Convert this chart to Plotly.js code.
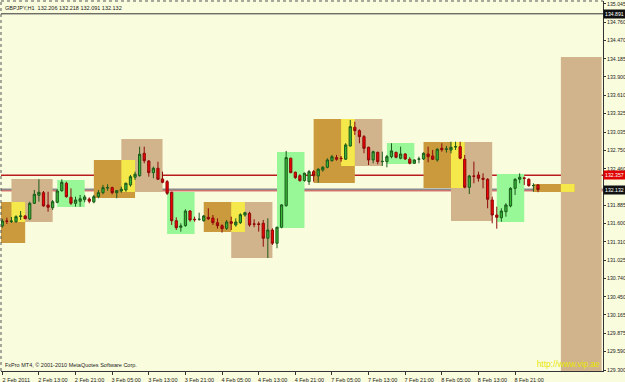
<!DOCTYPE html>
<html>
<head>
<meta charset="utf-8">
<script src="https://cdn.plot.ly/plotly-3.0.1.min.js"></script>
<style>html,body{margin:0;padding:0;background:#FAFCDE;}#chart{width:625px;height:382px;}</style>
</head>
<body>
<div id="chart"></div>
<script>
// ---- candle data (GBPJPY H1) ----
const open = [131.561,131.639,131.631,131.628,131.710,131.718,131.671,131.917,132.043,132.084,
131.891,131.848,131.933,132.115,132.231,132.011,131.917,131.949,131.974,131.985,
131.938,132.021,132.084,132.157,132.163,132.084,132.110,132.126,132.205,132.326,
132.351,132.702,132.581,132.398,132.467,132.299,132.257,132.090,131.644,131.541,
131.566,131.796,131.666,131.666,131.644,131.697,131.686,131.613,131.566,131.525,
131.628,131.577,131.613,131.733,131.760,131.594,131.594,131.603,131.368,131.498,
131.290,131.541,131.880,132.624,132.405,132.351,132.273,132.257,132.414,132.346,
132.440,132.482,132.586,132.634,132.624,132.609,132.817,133.110,133.057,132.963,
132.796,132.597,132.717,132.571,132.571,132.649,132.717,132.624,132.691,132.608,
132.545,132.608,132.613,132.691,132.660,132.597,132.780,132.765,132.754,132.801,
132.806,132.608,132.168,132.346,132.362,132.310,132.294,131.969,131.733,131.691,
131.785,131.875,132.152,132.294,132.315,132.294,132.194,132.206];
const high = [131.675,131.691,131.702,131.729,131.796,131.733,131.942,132.126,132.294,132.110,
132.099,131.969,132.137,132.294,132.256,132.152,132.021,132.048,132.048,132.011,
132.048,132.126,132.205,132.216,132.178,132.126,132.178,132.241,132.362,132.414,
132.806,132.806,132.597,132.492,132.569,132.414,132.283,132.099,131.697,131.603,
131.823,131.812,131.707,131.770,131.733,131.839,131.733,131.681,131.588,131.655,
131.707,131.681,131.760,131.785,131.785,131.666,131.628,131.655,131.681,131.525,
131.550,131.906,132.739,132.634,132.414,132.373,132.398,132.440,132.440,132.467,
132.503,132.624,132.676,132.676,132.660,132.860,133.225,133.198,133.079,132.989,
132.806,132.743,132.727,132.727,132.676,132.859,132.727,132.806,132.702,132.639,
132.608,132.649,132.717,132.806,132.754,132.780,132.859,132.817,132.884,132.884,
132.884,132.676,132.362,132.571,132.414,132.388,132.310,132.021,131.864,131.839,
131.917,132.168,132.310,132.388,132.335,132.310,132.231,132.218];
const low = [131.534,131.592,131.608,131.613,131.655,131.671,131.655,131.906,131.942,131.864,
131.785,131.812,131.917,132.099,132.005,131.891,131.864,131.864,131.933,131.917,
131.917,131.996,132.058,132.115,132.058,131.996,132.084,132.099,132.178,132.283,
132.335,132.545,132.335,132.310,132.283,132.231,132.048,131.577,131.498,131.472,
131.550,131.628,131.628,131.644,131.628,131.655,131.577,131.519,131.457,131.498,
131.498,131.550,131.592,131.707,131.550,131.541,131.472,131.236,131.058,131.263,
131.211,131.525,131.864,132.389,132.299,132.257,132.257,132.205,132.257,132.241,
132.414,132.467,132.571,132.586,132.571,132.597,132.806,132.989,132.859,132.702,
132.518,132.545,132.529,132.503,132.482,132.624,132.624,132.608,132.597,132.529,
132.534,132.545,132.597,132.561,132.597,132.571,132.727,132.712,132.702,132.754,
132.608,132.152,132.063,132.231,132.257,132.152,131.839,131.603,131.519,131.628,
131.707,131.854,132.048,132.231,132.205,132.178,132.099,132.091];
const close = [131.639,131.635,131.639,131.707,131.718,131.675,131.917,132.058,132.090,131.875,
131.854,131.942,132.110,132.247,132.021,131.917,131.969,131.989,132.016,131.949,
132.021,132.084,132.163,132.163,132.084,132.115,132.137,132.231,132.335,132.373,
132.687,132.586,132.398,132.467,132.294,132.247,132.074,131.644,131.534,131.561,
131.796,131.655,131.661,131.666,131.718,131.675,131.613,131.566,131.519,131.624,
131.603,131.624,131.738,131.770,131.577,131.589,131.586,131.368,131.498,131.290,
131.541,131.891,132.634,132.398,132.320,132.273,132.389,132.414,132.351,132.451,
132.482,132.597,132.649,132.609,132.619,132.833,133.120,133.057,132.963,132.780,
132.597,132.727,132.571,132.575,132.649,132.739,132.639,132.691,132.613,132.545,
132.597,132.613,132.702,132.649,132.608,132.765,132.759,132.770,132.796,132.806,
132.624,132.168,132.346,132.341,132.310,132.294,131.980,131.733,131.697,131.796,
131.891,132.152,132.294,132.326,132.310,132.194,132.196,132.132];

// ---- time axis labels (bar numbers) ----
const timeTickBars = [0,8,16,24,32,40,48,56,64,72,80,88,96,104,112];
const timeTickLabels = ["2 Feb 2011","2 Feb 13:00","2 Feb 21:00","3 Feb 05:00","3 Feb 13:00","3 Feb 21:00",
  "4 Feb 05:00","4 Feb 13:00","4 Feb 21:00","7 Feb 05:00","7 Feb 13:00","7 Feb 21:00",
  "8 Feb 05:00","8 Feb 13:00","8 Feb 21:00"];
const priceTicks = [135.045,134.760,134.470,134.185,133.900,133.610,133.325,133.035,132.750,132.460,
  131.885,131.600,131.310,131.025,130.740,130.450,130.165,129.875,129.590,129.300];

// ---- session zones (start bar, end bar, high, low) ----
const tanStart = [2,26,50,74,98,122];
const tanEnd   = [11,35,59,83,107,130.9];
const tanHigh  = [132.298,132.926,131.937,133.240,132.879,134.213];
const tanLow   = [131.624,132.094,131.058,132.502,131.639,129.200];
const goldStart = [-4,20,44,68,92,116];
const goldEnd   = [5,29,53,77,101,125];
const goldHigh  = [131.937,132.597,131.937,133.240,132.879,132.220];
const goldLow   = [131.294,131.999,131.467,132.236,132.157,132.095];
const yellowStart = [2,26,50,74,98,122];
const yellowEnd   = [5,29,53,77,101,125];
const yellowHigh  = [131.937,132.597,131.937,133.240,132.879,132.220];
const yellowLow   = [131.624,132.094,131.467,132.502,132.157,132.095];
const greenStart = [12,36,60,84,108];
const greenEnd   = [18,42,66,90,114];
const greenHigh  = [132.283,132.094,132.722,132.863,132.377];
const greenLow   = [131.859,131.435,131.529,132.534,131.624];

// ---- price levels ----
const levelTop = 134.891;
const levelRed = 132.357;
const levelBid = 132.132;
const titleText = "GBPJPY,H1  132.206 132.218 132.091 132.132";

const FONT = "Liberation Sans, Arial, sans-serif";
const bars = open.map((_, i) => i);

function zoneShapes(s, e, h, l, color) {
  return s.map((v, i) => ({
    type: 'rect', xref: 'x', yref: 'y', layer: 'below',
    x0: v, x1: e[i], y0: l[i], y1: h[i],
    fillcolor: color, line: {width: 0}
  }));
}

const shapes = [].concat(
  zoneShapes(tanStart, tanEnd, tanHigh, tanLow, '#D2B48C'),
  zoneShapes(goldStart, goldEnd, goldHigh, goldLow, '#CA9A3C'),
  zoneShapes(yellowStart, yellowEnd, yellowHigh, yellowLow, '#F4E84A'),
  zoneShapes(greenStart, greenEnd, greenHigh, greenLow, '#98F898'),
  [
    {type:'line', xref:'paper', yref:'y', x0:0, x1:1, y0:levelTop, y1:levelTop, layer:'below', line:{color:'#333333', width:1}},
    {type:'line', xref:'paper', yref:'y', x0:0, x1:1, y0:levelRed, y1:levelRed, layer:'below', line:{color:'#B81C1C', width:1.5}},
    {type:'line', xref:'paper', yref:'y', x0:0, x1:1, y0:levelBid, y1:levelBid, layer:'below', line:{color:'#8A8A8A', width:2}},
    {type:'line', xref:'paper', yref:'y', x0:0, x1:1, y0:levelBid - 0.02, y1:levelBid - 0.02, layer:'below', line:{color:'#D04A4A', width:1}},
    {type:'line', xref:'paper', yref:'paper', x0:0, x1:0, y0:0, y1:1, line:{color:'#555555', width:1, dash:'dot'}},
    {type:'line', xref:'paper', yref:'paper', x0:0, x1:1, y0:1, y1:1, line:{color:'#555555', width:1, dash:'dot'}}
  ]
);

const trace = {
  type: 'candlestick', x: bars, open: open, high: high, low: low, close: close,
  increasing: {line: {color: '#1C5A1C', width: 1}, fillcolor: '#36B836'},
  decreasing: {line: {color: '#8E0A0A', width: 1}, fillcolor: '#F00000'},
  whiskerwidth: 0, hoverinfo: 'skip', showlegend: false
};

function priceTag(v, bg) {
  return {xref:'paper', yref:'y', x:1, y:v, xanchor:'left', yanchor:'middle', xshift:0,
    text: v.toFixed(3), showarrow:false, bgcolor:bg, borderpad:1,
    font:{family:FONT, size:5.2, color:'#FFFFFF'}};
}

const layout = {
  width: 625, height: 382,
  margin: {l: 1, r: 22, t: 1, b: 11, pad: 0},
  paper_bgcolor: '#FAFCDE', plot_bgcolor: '#FAFCDE',
  showlegend: false,
  xaxis: {
    range: [-0.28, 131.2], showgrid: false, zeroline: false,
    showline: true, linecolor: '#333333', linewidth: 1,
    ticks: 'outside', ticklen: 3, tickcolor: '#333333',
    tickvals: timeTickBars, ticktext: timeTickLabels,
    tickfont: {family: FONT, size: 5.5, color: '#222222'},
    ticklabelshift: 14, ticklabelstandoff: 0,
    rangeslider: {visible: false}, fixedrange: true
  },
  yaxis: {
    side: 'right', range: [129.285, 135.092], showgrid: false, zeroline: false,
    showline: true, linecolor: '#333333', linewidth: 1,
    ticks: 'outside', ticklen: 2, tickcolor: '#333333',
    tickvals: priceTicks, ticktext: priceTicks.map(v => v.toFixed(3)),
    tickfont: {family: FONT, size: 5.2, color: '#222222'},
    ticklabelstandoff: 0, fixedrange: true
  },
  shapes: shapes,
  annotations: [
    {xref:'paper', yref:'paper', x:0, y:1, xanchor:'left', yanchor:'top', xshift:2, yshift:-2,
      text:titleText, showarrow:false, font:{family:FONT, size:5.5, color:'#222222'}},
    {xref:'paper', yref:'paper', x:0, y:0, xanchor:'left', yanchor:'bottom', xshift:2, yshift:1,
      text:'FxPro MT4, © 2001-2010 MetaQuotes Software Corp.', showarrow:false,
      font:{family:FONT, size:5.5, color:'#222222'}},
    {xref:'paper', yref:'paper', x:1, y:0, xanchor:'right', yanchor:'bottom', xshift:-1, yshift:0,
      text:'http://www.vip.ae', showarrow:false, font:{family:FONT, size:8.3, color:'#E6E600'}},
    priceTag(levelTop, '#111111'),
    priceTag(levelRed, '#E00000'),
    priceTag(levelBid, '#111111')
  ]
};

Plotly.newPlot('chart', [trace], layout, {staticPlot: true, displayModeBar: false});
</script>
</body>
</html>
